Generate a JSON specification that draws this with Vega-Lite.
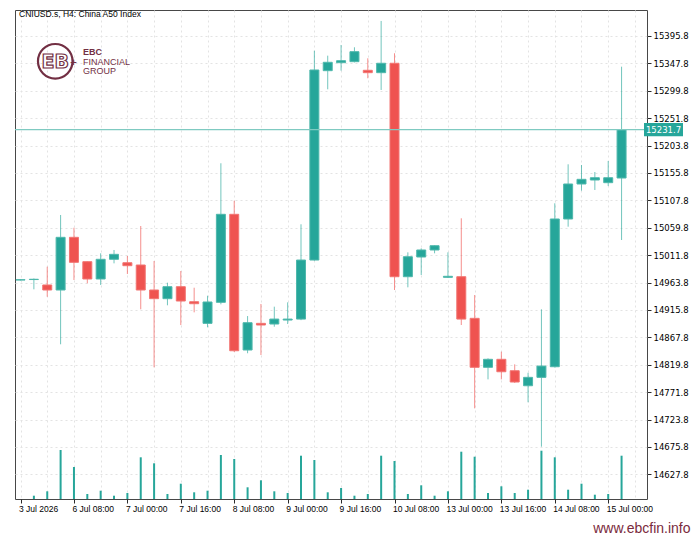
{
  "$schema": "https://vega.github.io/schema/vega-lite/v6.json",
  "width": 632,
  "height": 489,
  "autosize": {"type": "none"},
  "padding": {"left": 15, "top": 10, "right": 53, "bottom": 39},
  "background": "white",
  "config": {
    "view": {"stroke": "#474747", "strokeWidth": 1},
    "font": "Liberation Sans",
    "axis": {"labelOverlap": false}
  },
  "title": {
    "text": "CNIUSD.s, H4:  China A50 Index",
    "anchor": "start",
    "frame": "group",
    "offset": -8,
    "baseline": "top",
    "dx": 4,
    "font": "Liberation Sans",
    "fontSize": 8.5,
    "fontWeight": "normal",
    "color": "#000000"
  },
  "datasets": {
    "candles": [
      {"i": 0, "o": 14968.3, "h": 14969.5, "l": 14967.5, "c": 14968.8, "v": 0},
      {"i": 1, "o": 14969.1, "h": 14971.0, "l": 14952.0, "c": 14969.6, "v": 330},
      {"i": 2, "o": 14959.6, "h": 14991.6, "l": 14939.0, "c": 14950.8, "v": 770},
      {"i": 3, "o": 14950.8, "h": 15082.2, "l": 14855.7, "c": 15043.1, "v": 4900},
      {"i": 4, "o": 15043.1, "h": 15059.9, "l": 14968.3, "c": 14999.3, "v": 3200},
      {"i": 5, "o": 15000.4, "h": 15000.9, "l": 14962.5, "c": 14970.1, "v": 500},
      {"i": 6, "o": 14970.1, "h": 15015.1, "l": 14959.6, "c": 15004.6, "v": 830},
      {"i": 7, "o": 15004.6, "h": 15020.9, "l": 14997.5, "c": 15013.3, "v": 330},
      {"i": 8, "o": 14998.6, "h": 15010.4, "l": 14978.8, "c": 14993.4, "v": 600},
      {"i": 9, "o": 14994.6, "h": 15062.9, "l": 14917.0, "c": 14950.8, "v": 4170},
      {"i": 10, "o": 14950.8, "h": 15001.6, "l": 14815.4, "c": 14935.6, "v": 3570},
      {"i": 11, "o": 14935.6, "h": 14963.6, "l": 14924.0, "c": 14956.6, "v": 500},
      {"i": 12, "o": 14956.6, "h": 14984.1, "l": 14889.4, "c": 14931.5, "v": 1530},
      {"i": 13, "o": 14930.3, "h": 14954.8, "l": 14911.7, "c": 14926.8, "v": 670},
      {"i": 14, "o": 14892.4, "h": 14940.8, "l": 14885.4, "c": 14929.8, "v": 830},
      {"i": 15, "o": 14929.2, "h": 15172.8, "l": 14925.7, "c": 15083.4, "v": 4400},
      {"i": 16, "o": 15083.4, "h": 15107.2, "l": 14842.2, "c": 14844.4, "v": 4000},
      {"i": 17, "o": 14845.7, "h": 14905.2, "l": 14840.0, "c": 14893.5, "v": 1170},
      {"i": 18, "o": 14892.4, "h": 14926.3, "l": 14836.9, "c": 14889.5, "v": 1870},
      {"i": 19, "o": 14891.2, "h": 14921.6, "l": 14886.5, "c": 14899.9, "v": 770},
      {"i": 20, "o": 14898.2, "h": 14929.2, "l": 14891.2, "c": 14899.9, "v": 600},
      {"i": 21, "o": 14899.9, "h": 15065.9, "l": 14898.0, "c": 15003.3, "v": 4330},
      {"i": 22, "o": 15003.3, "h": 15370.0, "l": 15002.0, "c": 15336.2, "v": 3900},
      {"i": 23, "o": 15335.0, "h": 15361.3, "l": 15302.4, "c": 15349.7, "v": 670},
      {"i": 24, "o": 15349.0, "h": 15380.0, "l": 15335.0, "c": 15352.5, "v": 1100},
      {"i": 25, "o": 15350.8, "h": 15376.0, "l": 15349.5, "c": 15368.3, "v": 330},
      {"i": 26, "o": 15335.7, "h": 15356.7, "l": 15321.7, "c": 15331.5, "v": 500},
      {"i": 27, "o": 15331.5, "h": 15422.1, "l": 15301.2, "c": 15348.0, "v": 4330},
      {"i": 28, "o": 15348.0, "h": 15365.5, "l": 14950.8, "c": 14974.1, "v": 3800},
      {"i": 29, "o": 14974.1, "h": 15016.8, "l": 14955.5, "c": 15009.1, "v": 500},
      {"i": 30, "o": 15008.6, "h": 15023.8, "l": 14977.1, "c": 15020.9, "v": 1370},
      {"i": 31, "o": 15020.9, "h": 15029.0, "l": 15015.1, "c": 15028.4, "v": 330},
      {"i": 32, "o": 14973.0, "h": 15016.8, "l": 14971.8, "c": 14974.8, "v": 770},
      {"i": 33, "o": 14974.1, "h": 15076.4, "l": 14889.5, "c": 14899.9, "v": 4730},
      {"i": 34, "o": 14901.2, "h": 14942.0, "l": 14743.5, "c": 14815.4, "v": 4230},
      {"i": 35, "o": 14815.4, "h": 14831.1, "l": 14794.3, "c": 14829.4, "v": 600},
      {"i": 36, "o": 14829.4, "h": 14842.7, "l": 14794.3, "c": 14807.6, "v": 1270},
      {"i": 37, "o": 14809.4, "h": 14820.6, "l": 14788.0, "c": 14789.6, "v": 600},
      {"i": 38, "o": 14783.1, "h": 14805.9, "l": 14754.1, "c": 14797.8, "v": 930},
      {"i": 39, "o": 14797.8, "h": 14917.0, "l": 14676.3, "c": 14817.6, "v": 4830},
      {"i": 40, "o": 14816.4, "h": 15102.7, "l": 14815.0, "c": 15075.2, "v": 4170},
      {"i": 41, "o": 15075.2, "h": 15171.0, "l": 15061.7, "c": 15136.5, "v": 930},
      {"i": 42, "o": 15136.5, "h": 15169.8, "l": 15124.8, "c": 15144.7, "v": 1530},
      {"i": 43, "o": 15143.5, "h": 15157.5, "l": 15126.0, "c": 15147.5, "v": 430},
      {"i": 44, "o": 15138.8, "h": 15176.8, "l": 15133.0, "c": 15147.5, "v": 500},
      {"i": 45, "o": 15147.0, "h": 15342.0, "l": 15038.4, "c": 15231.7, "v": 4330}
    ],
    "one": [{"k": 0}]
  },
  "layer": [
    {
      "data": {"name": "candles"},
      "mark": {"type": "bar", "size": 2, "color": "#26a69a"},
      "encoding": {
        "x": {
          "field": "i",
          "type": "quantitative",
          "title": "www.ebcfin.info",
          "scale": {"domain": [-0.04, 46.53], "nice": false, "zero": false},
          "axis": {
            "values": [0, 2, 4, 6, 8, 10, 12, 14, 16, 18, 20, 22, 24, 26, 28, 30, 32, 34, 36, 38, 40, 42, 44, 46],
            "tickCount": 60,
            "labelExpr": "datum.value % 4 === 0 ? ['3 Jul 2026','6 Jul 08:00','7 Jul 00:00','7 Jul 16:00','8 Jul 08:00','9 Jul 00:00','9 Jul 16:00','10 Jul 08:00','13 Jul 00:00','13 Jul 16:00','14 Jul 08:00','15 Jul 00:00'][datum.value / 4] : ''",
            "labelAlign": "left",
            "labelBaseline": "top",
            "labelPadding": 1,
            "labelOffset": -2,
            "labelFont": "Liberation Sans",
            "labelFontSize": 8.5,
            "labelColor": "#000000",
            "labelFlush": false,
            "labelOverlap": false,
            "domain": false,
            "tickSize": 4,
            "tickColor": "#2b2b2b",
            "tickOpacity": {"condition": {"test": "datum.value % 4 === 0", "value": 1}, "value": 0},
            "grid": true,
            "gridColor": "#e3e3e3",
            "gridDash": [2, 3],
            "titleFont": "Liberation Sans",
            "titleFontSize": 14,
            "titleFontWeight": "normal",
            "titleColor": "#7a2a3c",
            "titleAnchor": "end",
            "titleAlign": "right",
            "titleBaseline": "alphabetic",
            "titleX": 675,
            "titleY": 33
          }
        },
        "y": {
          "field": "v",
          "type": "quantitative",
          "title": null,
          "scale": {"domain": [0, 48900], "nice": false},
          "axis": null
        }
      }
    },
    {
      "layer": [
        {
          "data": {"name": "candles"},
          "mark": {"type": "rule", "clip": true, "strokeWidth": 1, "opacity": 0.65},
          "encoding": {
            "x": {"field": "i", "type": "quantitative", "title": "www.ebcfin.info", "scale": {"domain": [-0.04, 46.53], "nice": false, "zero": false}},
            "y": {
              "field": "l",
              "type": "quantitative",
              "title": null,
              "scale": {"domain": [14584.7, 15441.3], "nice": false, "zero": false},
              "axis": {
                "orient": "right",
                "values": [14627.8, 14675.8, 14723.8, 14771.8, 14819.8, 14867.8, 14915.8, 14963.8, 15011.8, 15059.8, 15107.8, 15155.8, 15203.8, 15251.8, 15299.8, 15347.8, 15395.8],
                "tickCount": 40,
                "format": ".1f",
                "domain": false,
                "tickSize": 4,
                "tickColor": "#2b2b2b",
                "labelPadding": 2,
                "labelFont": "DejaVu Sans",
                "labelFontSize": 8.5,
                "labelColor": "#000000",
                "labelBaseline": "middle",
                "labelOverlap": false,
                "labelFlush": false,
                "grid": true,
                "gridColor": "#e3e3e3",
                "gridDash": [2, 3]
              }
            },
            "y2": {"field": "h"},
            "color": {"condition": {"test": "datum.c >= datum.o", "value": "#26a69a"}, "value": "#ef5350"}
          }
        },
        {
          "data": {"name": "candles"},
          "mark": {"type": "bar", "size": 9, "clip": true, "strokeWidth": 1},
          "encoding": {
            "x": {"field": "i", "type": "quantitative", "title": "www.ebcfin.info", "scale": {"domain": [-0.04, 46.53], "nice": false, "zero": false}},
            "y": {"field": "o", "type": "quantitative", "title": null, "scale": {"domain": [14584.7, 15441.3], "nice": false, "zero": false}},
            "y2": {"field": "c"},
            "color": {"condition": {"test": "datum.c >= datum.o", "value": "#26a69a"}, "value": "#ef5350"},
            "stroke": {"condition": {"test": "datum.c >= datum.o", "value": "#4fb8ac"}, "value": "#f27572"}
          }
        },
        {
          "data": {"name": "one"},
          "mark": {"type": "rule", "color": "#7fcac1", "strokeWidth": 1.4},
          "encoding": {
            "y": {"datum": 15231.7, "type": "quantitative", "scale": {"domain": [14584.7, 15441.3], "nice": false, "zero": false}}
          }
        },
        {
          "data": {"name": "one"},
          "mark": {"type": "rect", "color": "#26a69a"},
          "encoding": {
            "x": {"datum": 46.68, "type": "quantitative"},
            "x2": {"datum": 49.6},
            "y": {"datum": 15243.5, "type": "quantitative"},
            "y2": {"datum": 15220.0}
          }
        },
        {
          "data": {"name": "one"},
          "mark": {"type": "text", "color": "#ffffff", "font": "DejaVu Sans", "fontSize": 8.5, "align": "center", "baseline": "middle"},
          "encoding": {
            "x": {"datum": 48.14, "type": "quantitative"},
            "y": {"datum": 15231.7, "type": "quantitative"},
            "text": {"value": "15231.7"}
          }
        },
        {
          "data": {"name": "one"},
          "mark": {"type": "point", "shape": "circle", "filled": false, "size": 1195, "stroke": "#722f43", "strokeWidth": 2.2, "opacity": 1},
          "encoding": {
            "x": {"datum": 2.6, "type": "quantitative"},
            "y": {"datum": 15351.5, "type": "quantitative"}
          }
        },
        {
          "data": {"name": "one"},
          "mark": {"type": "text", "font": "DejaVu Sans", "fontSize": 19, "fontWeight": "bold", "fill": "#ffffff", "stroke": "#722f43", "strokeWidth": 1.2, "align": "center", "baseline": "middle"},
          "encoding": {
            "x": {"datum": 2.6, "type": "quantitative"},
            "y": {"datum": 15351.0, "type": "quantitative"},
            "text": {"value": "EB"}
          }
        },
        {
          "data": {"name": "one"},
          "mark": {"type": "text", "font": "DejaVu Sans", "fontSize": 9, "fontWeight": "bold", "color": "#722f43", "align": "center", "baseline": "middle"},
          "encoding": {
            "x": {"datum": 3.96, "type": "quantitative"},
            "y": {"datum": 15350.8, "type": "quantitative"},
            "text": {"value": "+"}
          }
        },
        {
          "data": {"name": "one"},
          "mark": {"type": "text", "font": "Liberation Sans", "fontSize": 9, "fontWeight": "bold", "color": "#722f43", "align": "left", "baseline": "middle"},
          "encoding": {
            "x": {"datum": 4.68, "type": "quantitative"},
            "y": {"datum": 15368.3, "type": "quantitative"},
            "text": {"value": "EBC"}
          }
        },
        {
          "data": {"name": "one"},
          "mark": {"type": "text", "font": "Liberation Sans", "fontSize": 9, "color": "#722f43", "align": "left", "baseline": "middle"},
          "encoding": {
            "x": {"datum": 4.68, "type": "quantitative"},
            "y": {"datum": 15350.8, "type": "quantitative"},
            "text": {"value": "FINANCIAL"}
          }
        },
        {
          "data": {"name": "one"},
          "mark": {"type": "text", "font": "Liberation Sans", "fontSize": 9, "color": "#722f43", "align": "left", "baseline": "middle"},
          "encoding": {
            "x": {"datum": 4.68, "type": "quantitative"},
            "y": {"datum": 15334.8, "type": "quantitative"},
            "text": {"value": "GROUP"}
          }
        }
      ]
    }
  ],
  "resolve": {"scale": {"y": "independent"}}
}
